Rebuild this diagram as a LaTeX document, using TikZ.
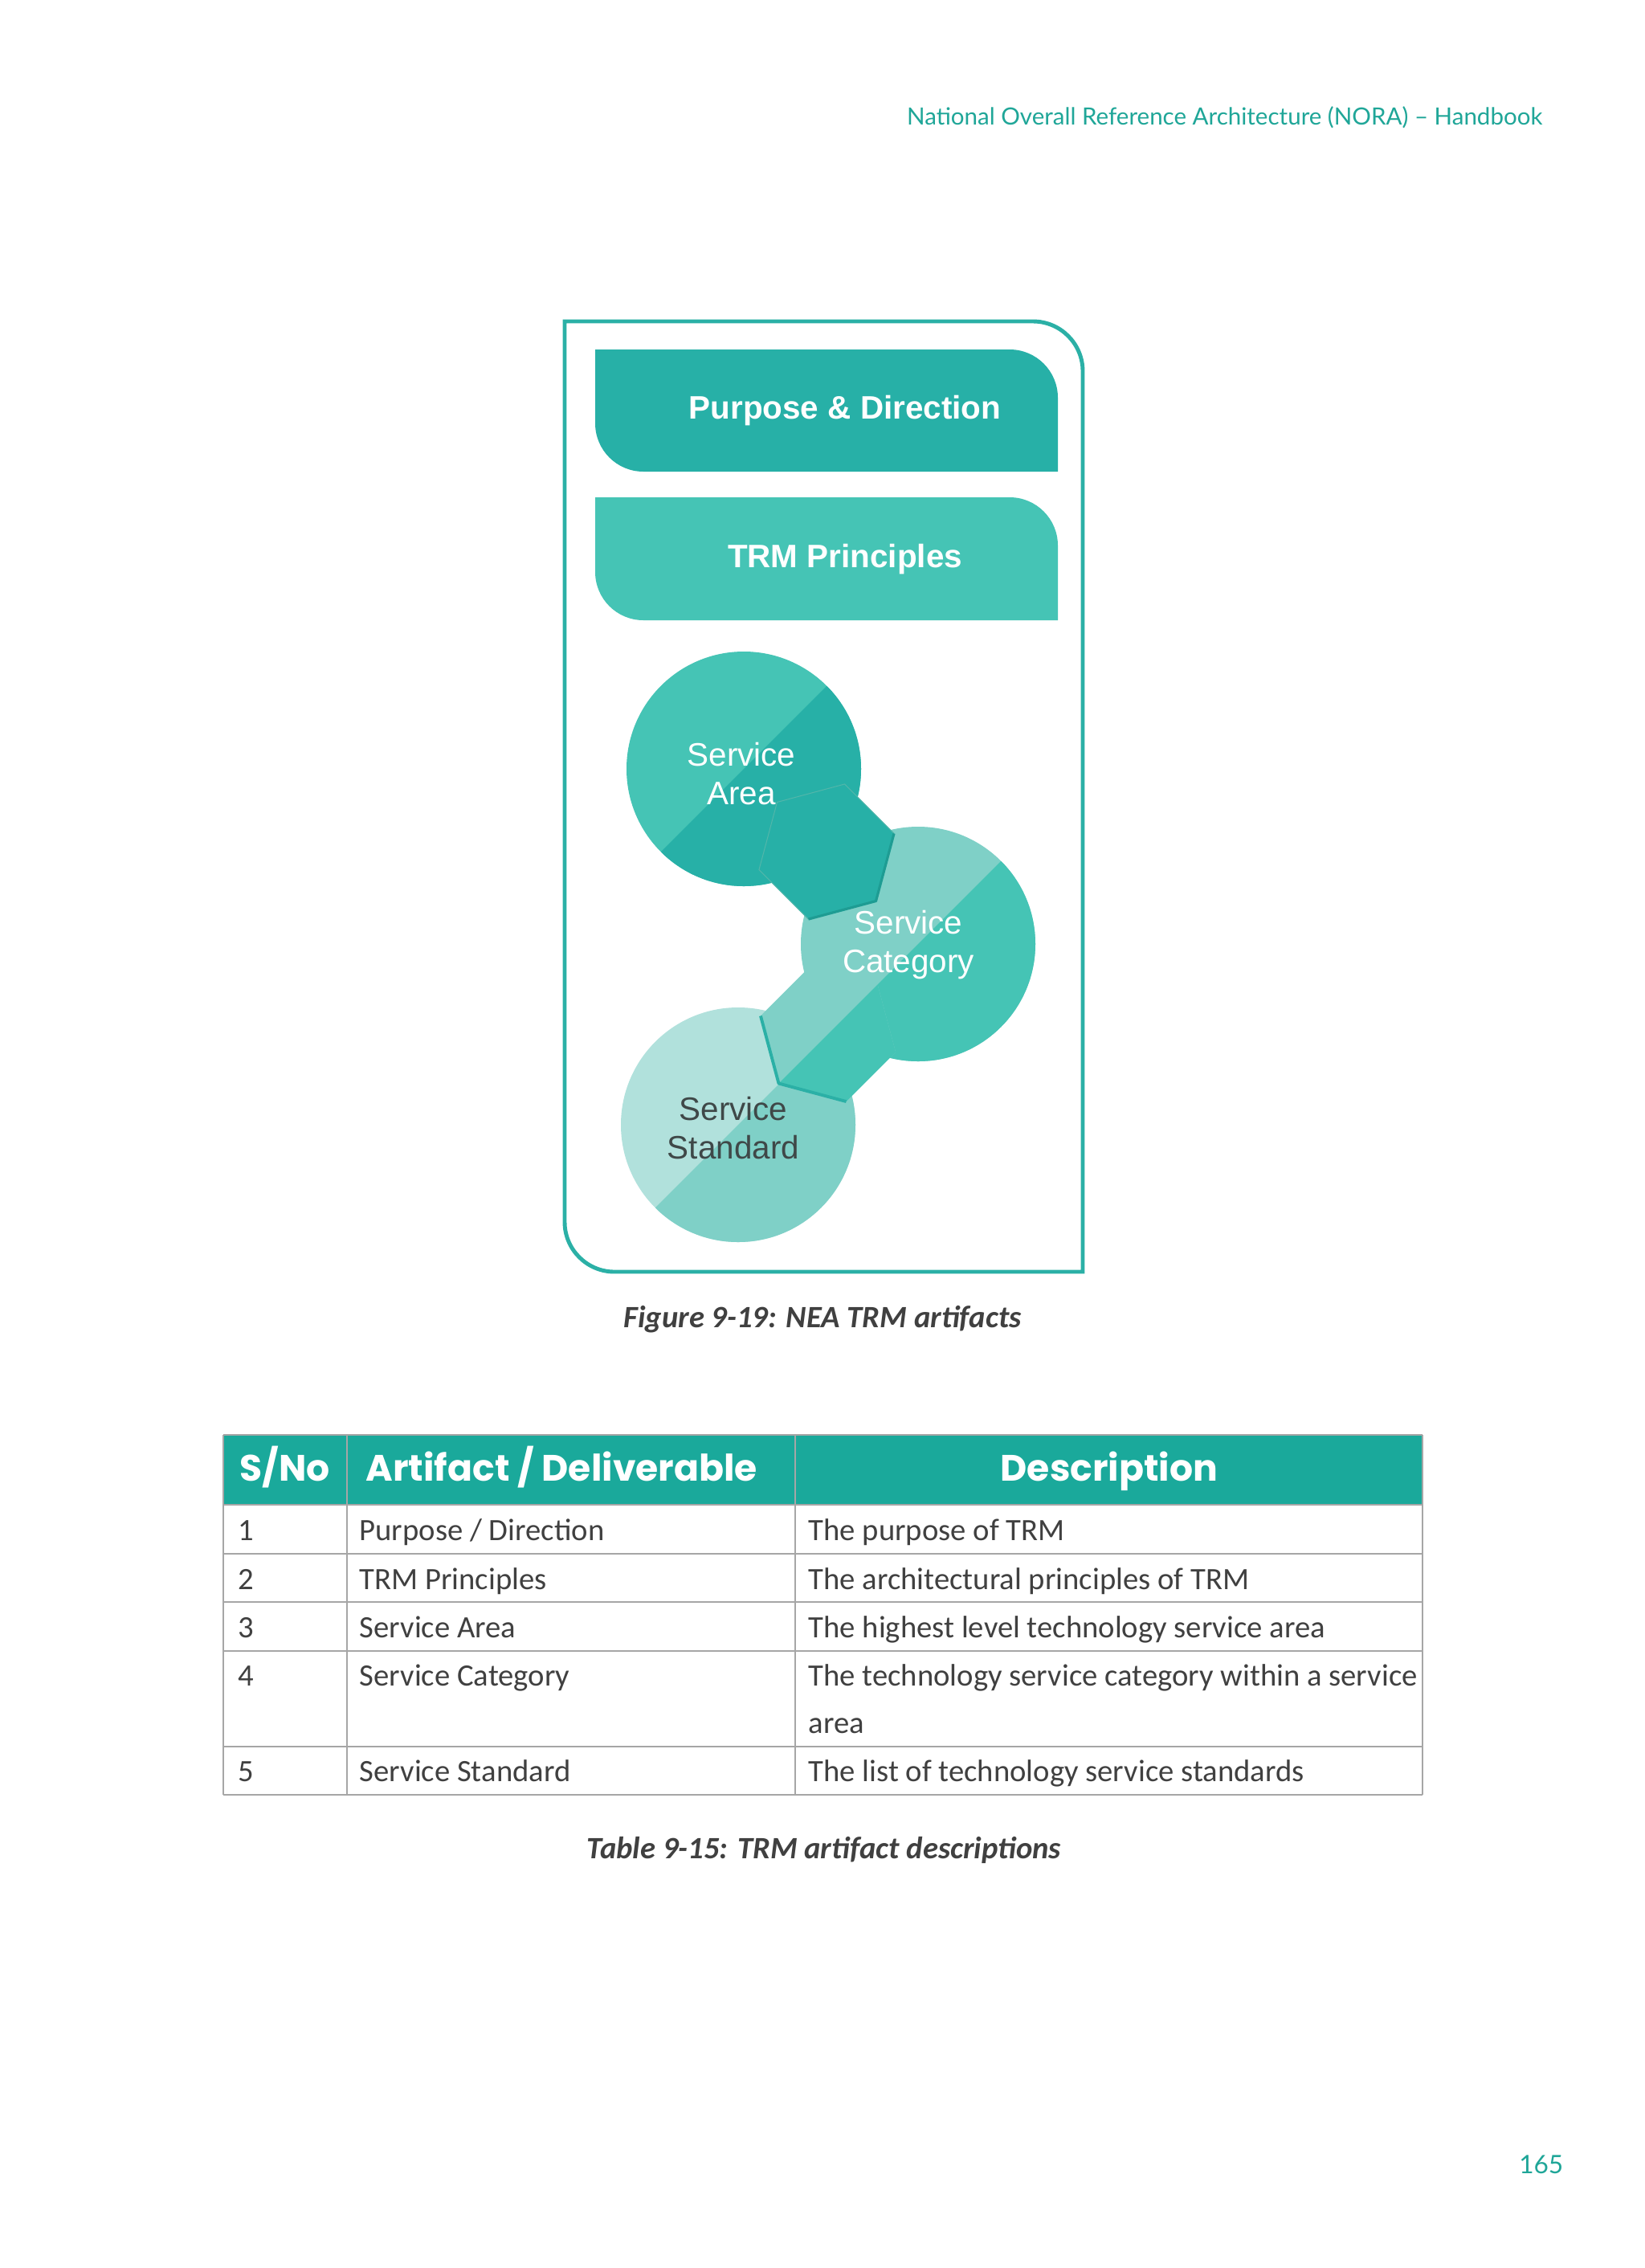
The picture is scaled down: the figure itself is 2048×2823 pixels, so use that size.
\documentclass[tikz,border=0pt]{standalone}
\usepackage{fontspec}
\setmainfont{Carlito}
\newfontfamily\arialfont{Liberation Sans}
\newfontfamily\headfont{Poppins}
\newfontfamily\gillfont{Lato}
\usepackage{xcolor}
\usepackage{tikz}
\usetikzlibrary{positioning}

\definecolor{tealdark}{RGB}{39,176,167}
\definecolor{tealmid}{RGB}{69,196,181}
\definecolor{teallight}{RGB}{127,208,199}
\definecolor{tealpale}{RGB}{177,225,220}
\definecolor{tealedge}{RGB}{30,156,147}
\definecolor{tealframe}{RGB}{43,176,166}
\definecolor{tealhead}{RGB}{26,169,155}
\definecolor{tealtext}{RGB}{31,166,152}
\definecolor{capgray}{RGB}{64,64,64}
\definecolor{gridgray}{RGB}{166,166,166}
\definecolor{sstext}{RGB}{63,72,72}

\begin{document}
\begin{tikzpicture}[x=0.1mm,y=-0.1mm]

% Define block styles
\tikzstyle{boxtext}=[text=white, font=\arialfont\bfseries\fontsize{11.5}{14}\selectfont]
\tikzstyle{circtext}=[align=center, font=\arialfont\fontsize{11.5}{13.4}\selectfont]
\tikzstyle{headcell}=[anchor=base west, inner sep=0pt, text=white,
  font=\headfont\bfseries\fontsize{13}{15}\selectfont]
\tikzstyle{bodycell}=[anchor=base west, inner sep=0pt, text=capgray,
  font=\fontsize{11}{16.8}\selectfont]
\tikzstyle{capline}=[anchor=base, inner sep=0pt, text=capgray,
  font=\bfseries\itshape\fontsize{11}{13}\selectfont]
\tikzstyle{pagetext}=[anchor=base east, inner sep=0pt, text=tealtext]
\tikzstyle{tabline}=[draw=gridgray, line width=0.6pt]

% Leaf shape: rounded top-right and bottom-left corners
\newcommand{\leaf}[5]{%
  ({#1},{#2}) -- ({#3-#5},{#2})
  .. controls ({#3-0.448*#5},{#2}) and ({#3},{#2+0.448*#5}) .. ({#3},{#2+#5})
  -- ({#3},{#4}) -- ({#1+#5},{#4})
  .. controls ({#1+0.448*#5},{#4}) and ({#1},{#4-0.448*#5}) .. ({#1},{#4-#5})
  -- cycle}

% Two-tone disc, split along the rising diagonal
\newcommand{\splitdisc}[5]{%
  \coordinate (#1) at (#2,#3);
  \fill[#4] (#1) circle (146);
  \begin{scope}
    \clip (#1) circle (146);
    \fill[#5] ({#2-200},{#3+200}) -- ({#2+200},{#3-200})
      -- ({#2+200},{#3+200}) -- cycle;
  \end{scope}}

% Page
\useasboundingbox (0,0) rectangle (2048,2823);
\fill[white] (0,0) rectangle (2048,2823);

\node[pagetext, font=\gillfont\fontsize{8.4}{10}\selectfont] (runhead)
  at (1921,155) {National Overall Reference Architecture (NORA) – Handbook};

% Draw the frame and the two banners
\draw[tealframe, line width=1.4pt] \leaf{703}{400}{1348}{1583}{62};
\fill[tealdark] \leaf{741}{435}{1317}{587}{60};
\fill[tealmid] \leaf{741}{619}{1317}{772}{60};
\node[boxtext] (purpose) at (1052,511) {Purpose \& Direction};
\node[boxtext] (trm) at (1052,696) {TRM Principles};

% Draw the chain of discs
\splitdisc{area}{926}{957}{tealmid}{tealdark}
\splitdisc{categ}{1143}{1175}{teallight}{tealmid}

\coordinate (hexA) at (1029,1060);
\fill[tealdark] (hexA) +(45:87) -- +(105:87) -- +(165:87) -- +(225:87)
  -- +(285:87) -- +(345:87) -- cycle;
\draw[tealmid!80!gray, line width=0.3pt] (hexA) +(105:87) -- +(165:87)
  -- +(225:87) -- +(285:87) -- +(345:87);
\draw[tealedge, line width=0.9pt, line join=round] (hexA) +(345:87)
  -- +(45:87) -- +(105:87);

\splitdisc{standard}{919}{1400}{tealpale}{teallight}

\coordinate (hexB) at (1031,1287);
\fill[teallight] (hexB) +(15:87) -- +(75:87) -- +(135:87) -- +(195:87)
  -- +(255:87) -- +(315:87) -- cycle;
\begin{scope}
  \clip (hexB) +(15:87) -- +(75:87) -- +(135:87) -- +(195:87)
    -- +(255:87) -- +(315:87) -- cycle;
  \fill[tealmid] (831,1487) -- (1231,1087) -- (1231,1487) -- cycle;
\end{scope}
\draw[tealframe, line width=1.1pt, line join=round] (hexB) +(195:87)
  -- +(135:87) -- +(75:87);

\node[circtext, text=white] (areatext) at (923,963) {Service\\Area};
\node[circtext, text=white] (categtext) at (1131,1176) {Service\\Category};
\node[circtext, text=sstext] (stdtext) at (913,1404) {Service\\Standard};

\node[capline] (figcap) at (1024,1652) {Figure 9-19: NEA TRM artifacts};

% Draw the table
\fill[tealhead] (278,1786) rectangle (1771,1873);
\foreach \yy in {1786,1873,1934,1994,2055,2174,2234}
  \draw[tabline] (278,\yy) -- (1771,\yy);
\foreach \xx in {278,432,990,1771}
  \draw[tabline] (\xx,1786) -- (\xx,2234);

\node[headcell] (hsno) at (298,1843) {S/No};
\node[headcell] (hart) at (455,1843) {Artifact / Deliverable};
\node[headcell, anchor=base] (hdesc) at (1381,1843) {Description};

\node[bodycell] (n1) at (296,1917) {1};
\node[bodycell] (a1) at (447,1917) {Purpose / Direction};
\node[bodycell] (d1) at (1006,1917) {The purpose of TRM};
\node[bodycell] (n2) at (296,1978) {2};
\node[bodycell] (a2) at (447,1978) {TRM Principles};
\node[bodycell] (d2) at (1006,1978) {The architectural principles of TRM};
\node[bodycell] (n3) at (296,2038) {3};
\node[bodycell] (a3) at (447,2038) {Service Area};
\node[bodycell] (d3) at (1006,2038) {The highest level technology service area};
\node[bodycell] (n4) at (296,2098) {4};
\node[bodycell] (a4) at (447,2098) {Service Category};
\node[bodycell] (d4) at (1006,2098) {The technology service category within a service};
\node[bodycell] (d4b) at ([yshift=-16.8pt]d4.base west) {area};
\node[bodycell] (n5) at (296,2217) {5};
\node[bodycell] (a5) at (447,2217) {Service Standard};
\node[bodycell] (d5) at (1006,2217) {The list of technology service standards};

\node[capline] (tabcap) at (1026,2313) {Table 9-15: TRM artifact descriptions};

\node[pagetext, font=\gillfont\fontsize{9}{11}\selectfont] (pagenum)
  at (1947,2705) {165};

\end{tikzpicture}
\end{document}
